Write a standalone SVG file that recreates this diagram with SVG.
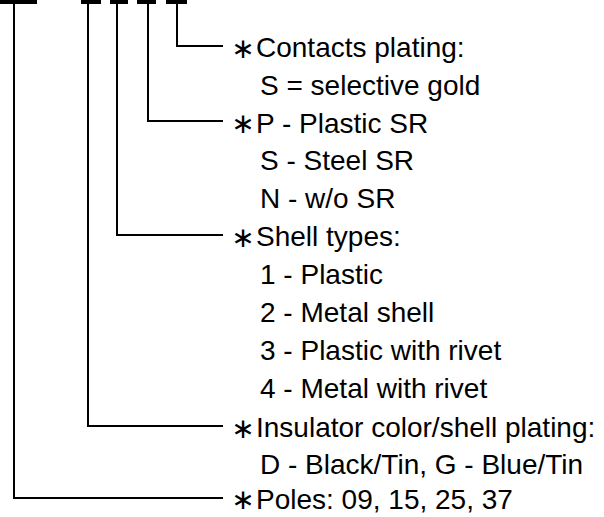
<svg xmlns="http://www.w3.org/2000/svg" width="604" height="517" viewBox="0 0 604 517">
<style>
.t{font-family:"Liberation Sans",Arial,sans-serif;font-size:28px;fill:#000}
.a{font-family:"DejaVu Sans",sans-serif;font-size:28px;fill:#000;text-anchor:middle}
.c{fill:none;stroke:#000;stroke-width:2}
.b{fill:#000}
</style>
<rect width="604" height="517" fill="#fff"/>
<g id="bars">
<rect class="b" x="0" y="0" width="37" height="4"/>
<rect class="b" x="81" y="0" width="20" height="4"/>
<rect class="b" x="110" y="0" width="18" height="4"/>
<rect class="b" x="137" y="0" width="19" height="4"/>
<rect class="b" x="166" y="0" width="21" height="4"/>
</g>
<g id="connectors">
<polyline class="c" points="177,2 177,46 223,46"/>
<polyline class="c" points="148,2 148,121 223,121"/>
<polyline class="c" points="117,2 117,235 223,235"/>
<polyline class="c" points="88,2 88,426 223,426"/>
<polyline class="c" points="14,2 14,498 223,498"/>
</g>
<g id="contacts">
<text class="a" x="243" y="58">∗</text>
<text class="t" x="256" y="57">Contacts plating:</text>
<text class="t" x="260" y="95">S = selective gold</text>
</g>
<g id="sr">
<text class="a" x="243" y="133">∗</text>
<text class="t" x="256" y="133">P - Plastic SR</text>
<text class="t" x="260" y="170">S - Steel SR</text>
<text class="t" x="260" y="208">N - w/o SR</text>
</g>
<g id="shell">
<text class="a" x="243" y="247">∗</text>
<text class="t" x="256" y="246">Shell types:</text>
<text class="t" x="260" y="284">1 - Plastic</text>
<text class="t" x="260" y="322">2 - Metal shell</text>
<text class="t" x="260" y="360">3 - Plastic with rivet</text>
<text class="t" x="260" y="398">4 - Metal with rivet</text>
</g>
<g id="insulator">
<text class="a" x="243" y="438">∗</text>
<text class="t" x="256" y="437">Insulator color/shell plating:</text>
<text class="t" x="260" y="474">D - Black/Tin, G - Blue/Tin</text>
</g>
<g id="poles">
<text class="a" x="243" y="509">∗</text>
<text class="t" x="256" y="509">Poles: 09, 15, 25, 37</text>
</g>
</svg>
